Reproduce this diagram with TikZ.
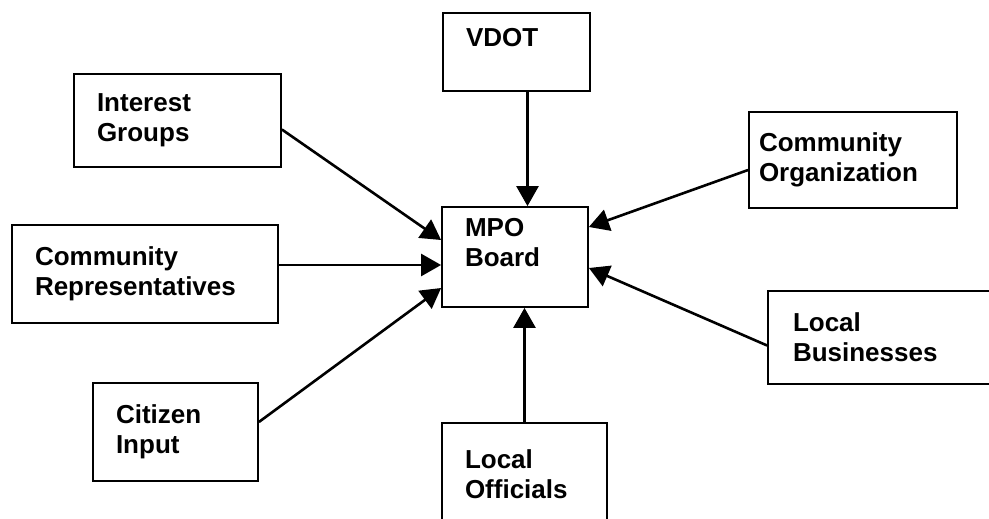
\documentclass[tikz,border=0pt]{standalone}
\usepackage{fontspec}
\setmainfont{Liberation Sans}
\usetikzlibrary{arrows.meta}

\tikzset{
  actor/.style={draw, line width=1.8pt, align=left, inner xsep=23pt, inner ysep=0pt,
                font=\bfseries\fontsize{26}{30}\selectfont},
}

\begin{document}
\begin{tikzpicture}[x=1pt,y=-1pt,>={Triangle[length=20pt,width=22pt]},line width=2.6pt]
\useasboundingbox (0,0) rectangle (989,519);

\node[actor, text width=101pt, minimum height=78pt]  (VDOT) at (516.5,52)  {VDOT\\\mbox{}};
\node[actor, text width=161pt, minimum height=93pt]  (IG)   at (177.5,120.5) {Interest\\Groups};
\node[actor, text width=220pt, minimum height=98pt]  (CR)   at (145,274)   {Community\\Representatives};
\node[actor, text width=119pt, minimum height=98pt]  (CI)   at (175.5,432) {Citizen\\Input};

\node[actor, text width=100pt, minimum height=100pt] (MPO)  at (515,257)   {MPO\\Board\\\mbox{}};

\node[actor, inner xsep=10pt, text width=188pt, minimum height=96pt] (CO) at (853,160) {Community\\Organization};
\node[actor, inner xsep=25pt, text width=177pt, minimum height=93pt] (LB) at (881.5,337.5) {Local\\Businesses};
\node[actor, text width=119pt, minimum height=102pt] (LO)   at (524.5,474) {Local\\Officials};

% everything feeds into the board
\path ([xshift=11pt]VDOT.south) edge[->] ([xshift=11pt]VDOT.south |- MPO.north)
      ([yshift=-9pt]IG.east)    edge[->] ([yshift=17pt]MPO.west)
      ([yshift=9pt]CR.east)     edge[->] ([yshift=9pt]CR.east -| MPO.west)
      ([yshift=10pt]CI.east)    edge[->] ([yshift=-31pt]MPO.west);
\path ([yshift=-10pt]CO.west)   edge[->] ([yshift=30pt]MPO.east)
      ([yshift=-8pt]LB.west)    edge[->] ([yshift=-11pt]MPO.east)
      (LO.north)                edge[->] (LO.north |- MPO.south);
\end{tikzpicture}
\end{document}
